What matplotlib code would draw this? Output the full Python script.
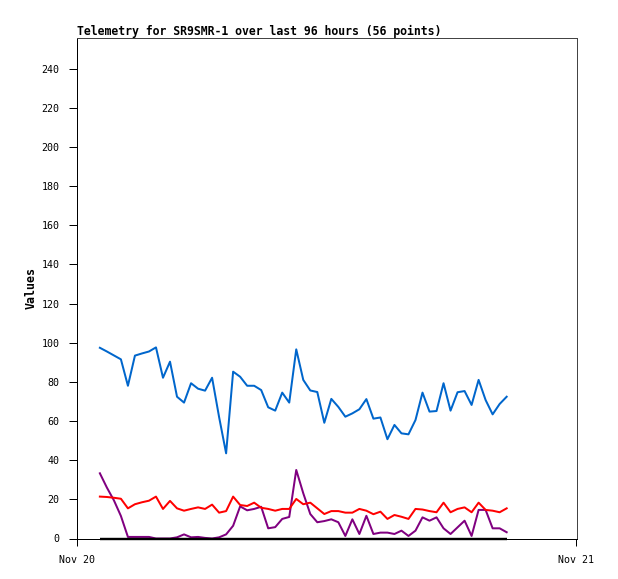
import matplotlib
matplotlib.use("Agg")
import matplotlib.pyplot as plt
import pandas as pd

title = "Telemetry for SR9SMR-1 over last 96 hours (56 points)"
ylabel = "Values"

blue_vals = [97.4, 95.5, 93.5, 91.5, 78.0, 93.4, 94.5, 95.5, 97.6, 82.1,
             90.3, 72.4, 69.4, 79.3, 76.5, 75.5, 82.1, 62.0, 43.5, 85.2,
             82.6, 78.0, 78.0, 75.8, 67.0, 65.3, 74.5, 69.4, 96.6, 81.0,
             75.6, 74.8, 59.1, 71.3, 67.2, 62.2, 63.9, 66.0, 71.2, 61.2,
             61.8, 50.7, 58.0, 53.7, 53.2, 60.5, 74.5, 64.8, 65.1, 79.3,
             65.3, 74.7, 75.3, 68.2, 81.0, 70.7, 63.4, 68.7, 72.4]
red_vals = [21.4, 21.2, 20.8, 20.3, 15.4, 17.5, 18.5, 19.3, 21.4, 15.1,
            19.2, 15.4, 14.2, 15.1, 15.9, 15.1, 17.3, 13.2, 14.0, 21.4,
            17.1, 16.6, 18.3, 15.7, 15.1, 14.2, 15.1, 15.1, 20.2, 17.5,
            18.3, 15.4, 12.5, 14.0, 14.0, 13.2, 13.2, 15.1, 14.2, 12.4,
            13.7, 10.0, 12.0, 11.1, 10.0, 15.1, 14.8, 14.0, 13.4, 18.3,
            13.4, 15.1, 15.9, 13.4, 18.3, 14.6, 14.2, 13.4, 15.4]
purple_vals = [33.3, 26.0, 19.5, 11.5, 0.8, 0.8, 0.8, 0.8, 0.0, 0.0,
               0.0, 0.6, 2.1, 0.6, 0.8, 0.3, 0.0, 0.6, 2.1, 6.5,
               16.4, 14.4, 15.1, 16.2, 5.2, 5.8, 10.0, 11.0, 35.0, 23.1,
               12.5, 8.3, 8.9, 9.8, 8.3, 1.3, 9.8, 2.3, 11.6, 2.3,
               3.0, 3.0, 2.3, 4.0, 1.3, 4.0, 10.8, 9.1, 10.8, 5.2,
               2.3, 5.7, 9.1, 1.3, 14.6, 14.6, 5.2, 5.2, 3.2]
black_vals = [0.0] * len(blue_vals)

times = pd.date_range("2023-11-20 01:06", "2023-11-20 20:40", periods=len(blue_vals))
xtick_dates = [pd.Timestamp("2023-11-20"), pd.Timestamp("2023-11-21")]
xtick_labels = ["Nov 20", "Nov 21"]
yticks = list(range(0, 241, 20))

W, H = 618, 579
PX = 72 / 100  # points per pixel
fig = plt.figure(figsize=(W / 100, H / 100), dpi=100)
ax = fig.add_axes([77 / W, (H - 538.5) / H, (577 - 77) / W, (538.5 - 38) / H])

mono = "DejaVu Sans Mono"
ax.plot(times, purple_vals, color="#800080", lw=2.0 * PX, zorder=3)
ax.plot(times, black_vals, color="black", lw=2.4 * PX, zorder=3.5,
        solid_capstyle="butt", clip_on=False)
ax.plot(times, red_vals, color="#FF0000", lw=2.0 * PX, zorder=4)
ax.plot(times, blue_vals, color="#0066CC", lw=2.0 * PX, zorder=5)

ax.set_ylim(0, 255.6)
ax.set_xlim(xtick_dates[0], xtick_dates[1] + pd.Timedelta(minutes=3))
ax.set_yticks(yticks)
ax.set_yticklabels([str(v) for v in yticks], fontfamily=mono, fontsize=7.2)
ax.set_xticks(xtick_dates)
ax.set_xticklabels(xtick_labels, fontfamily=mono, fontsize=7.2)
ax.tick_params(axis="y", direction="out", length=8 * PX, width=1 * PX,
               pad=9.5 * PX, color="black")
ax.tick_params(axis="x", direction="out", length=6.5 * PX, width=1 * PX,
               pad=10 * PX, color="black")

for s in ["top", "right"]:
    ax.spines[s].set_color("#444444")
    ax.spines[s].set_linewidth(1 * PX)
for s in ["left", "bottom"]:
    ax.spines[s].set_color("black")
    ax.spines[s].set_linewidth(1 * PX)

fig.text(31 / W, 1 - 288 / H, ylabel, rotation=90, ha="center", va="center",
         fontfamily=mono, fontweight="bold", fontsize=8.4)
fig.text(77 / W, 1 - 35.5 / H, title, ha="left", va="baseline",
         fontfamily=mono, fontweight="bold", fontsize=8.3)

fig.savefig("out.png", dpi=100, facecolor="white")
